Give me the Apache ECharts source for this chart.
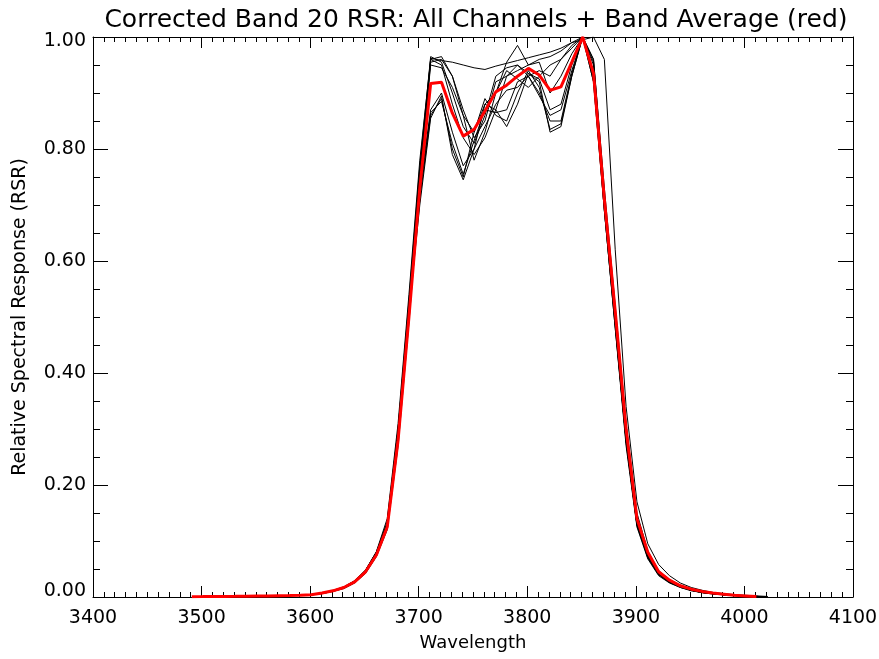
<!DOCTYPE html>
<html>
<head>
<meta charset="utf-8">
<script src="https://cdn.jsdelivr.net/npm/echarts@6/dist/echarts.min.js"></script>
<style>html,body{margin:0;padding:0;background:#fff}#c{width:879px;height:659px}</style>
</head>
<body>
<div id="c"></div>
<script>
// Band-average wavelengths (nm) and average RSR (red)
const avgWave = [3491,3501,3511,3521,3531,3541,3551,3561,3571,3581,3591,3601,3611,3621,3631,3641,3651,3661,3671,3681,3691,3701,3711,3721,3731,3741,3751,3761,3771,3781,3791,3801,3811,3821,3831,3841,3851,3861,3871,3881,3891,3901,3911,3921,3931,3941,3951,3961,3971,3981,3991,4001,4011];
const avgRSR = [0.0005,0.0007,0.001,0.001,0.0012,0.0015,0.0018,0.002,0.0023,0.0026,0.003,0.004,0.007,0.011,0.017,0.027,0.045,0.075,0.125,0.28,0.50,0.73,0.917,0.919,0.864,0.823,0.835,0.868,0.902,0.914,0.93,0.944,0.932,0.905,0.911,0.955,1.0,0.935,0.71,0.51,0.30,0.14,0.08,0.045,0.03,0.02,0.014,0.01,0.007,0.005,0.003,0.002,0.001];

// Channel wavelengths (nm)
const chanWave = [3591,3601,3611,3621,3631,3641,3651,3661,3671,3681,3691,3701,3711,3721,3731,3741,3751,3761,3771,3781,3791,3801,3811,3821,3831,3841,3851,3861,3871,3881,3891,3901,3911,3921,3931,3941,3951,3961,3971,3981,3991,4001,4011,4021];

// Individual channel RSR
const ch1 = [.003,.004,.007,.011,.017,.028,.047,.080,.135,.30,.53,.77, .965,.955,.90,.84,.81,.86,.93,.945,.95,.93,.94,.93,.96,.98,1.0,.96, .72,.50,.29,.135,.075,.043,.028,.019,.013,.009,.006,.004,.003,.002,.001,.0005];
const ch2 = [.003,.004,.006,.010,.015,.025,.042,.072,.12,.27,.49,.73, .962,.958,.955,.95,.945,.942,.948,.953,.958,.963,.968,.973,.98,.99,.995,1.0, .96,.62,.34,.17,.095,.058,.038,.025,.017,.012,.008,.006,.004,.003,.002,.001];
const ch3 = [.003,.004,.007,.011,.017,.028,.046,.078,.13,.29,.52,.75, .955,.96,.93,.87,.82,.85,.92,.93,.94,.95,.955,.90,.93,.97,1.0,.95, .70,.49,.28,.13,.072,.041,.027,.018,.012,.008,.006,.004,.003,.002,.001,.0005];
const ch4 = [.003,.004,.007,.011,.018,.029,.048,.080,.13,.30,.52,.76, .96,.95,.88,.82,.79,.82,.87,.93,.95,.935,.925,.87,.88,.95,1.0,.93, .69,.48,.28,.13,.072,.041,.027,.018,.012,.008,.006,.004,.003,.002,.001,.0005];
const ch5 = [.003,.004,.006,.010,.016,.026,.044,.075,.125,.285,.51,.75, .95,.945,.91,.86,.83,.88,.90,.955,.985,.95,.96,.965,.975,.99,1.0,.96, .73,.52,.31,.15,.082,.047,.031,.021,.014,.010,.007,.005,.003,.002,.001,.0005];
const ch6 = [.003,.004,.007,.011,.017,.028,.047,.079,.13,.29,.51,.70, .855,.895,.79,.745,.80,.88,.87,.84,.88,.935,.92,.83,.84,.93,1.0,.92, .69,.48,.27,.125,.068,.038,.025,.017,.011,.008,.005,.004,.002,.002,.001,.0005];
const ch7 = [.003,.004,.007,.011,.017,.027,.046,.078,.13,.29,.51,.71, .86,.89,.80,.75,.83,.89,.86,.85,.90,.94,.91,.835,.845,.93,1.0,.93, .70,.49,.28,.13,.07,.04,.026,.018,.012,.008,.006,.004,.003,.002,.001,.0005];
const ch8 = [.003,.004,.007,.011,.017,.028,.047,.079,.13,.295,.515,.72, .865,.885,.81,.755,.815,.87,.865,.87,.92,.93,.90,.85,.85,.935,1.0,.92, .69,.485,.275,.128,.07,.04,.026,.017,.012,.008,.006,.004,.003,.002,.001,.0005];
const ch9 = [.003,.004,.007,.011,.017,.028,.046,.078,.13,.29,.515,.73, .87,.90,.83,.77,.80,.84,.88,.905,.91,.93,.895,.86,.87,.94,1.0,.93, .70,.49,.28,.13,.072,.041,.027,.018,.012,.008,.006,.004,.003,.002,.001,.0005];
const ch10 = [.003,.004,.007,.012,.018,.029,.048,.081,.14,.31,.54,.78, .96,.965,.93,.86,.78,.83,.90,.94,.925,.91,.93,.95,.96,.985,1.0,.955, .71,.50,.29,.135,.075,.043,.028,.019,.013,.009,.006,.004,.003,.002,.001,.0005];
const channels = [ch1,ch2,ch3,ch4,ch5,ch6,ch7,ch8,ch9,ch10];

const xTicks = [3400,3500,3600,3700,3800,3900,4000,4100];
const yTicks = [0.0,0.2,0.4,0.6,0.8,1.0];

const FONT = 'DejaVu Sans';
const zip = (xs, ys) => xs.map((x, i) => [x, ys[i]]);

const series = channels.map((c, i) => ({
  name: 'ch' + (i + 1), type: 'line', data: zip(chanWave, c),
  showSymbol: false, symbol: 'none', lineStyle: { color: '#000', width: 1 },
  xAxisIndex: 0, yAxisIndex: 0, z: 2
}));
series.push({
  name: 'avg', type: 'line', data: zip(avgWave, avgRSR),
  showSymbol: false, symbol: 'none', lineStyle: { color: '#ff0000', width: 3 },
  xAxisIndex: 0, yAxisIndex: 0, z: 3
});

const lineStyle = { color: '#000', width: 1 };
const chart = echarts.init(document.getElementById('c'), null, { renderer: 'canvas' });
chart.setOption({
  animation: false,
  backgroundColor: '#fff',
  title: {
    text: 'Corrected Band 20 RSR: All Channels + Band Average (red)',
    left: 471, textAlign: 'center', top: 3,
    textStyle: { fontFamily: FONT, fontSize: 25, fontWeight: 'normal', color: '#000' }
  },
  grid: { left: 93, right: 26, top: 37, bottom: 62, containLabel: false, outerBoundsMode: 'none' },
  xAxis: [{
    type: 'value', min: xTicks[0], max: xTicks[xTicks.length - 1], interval: 100, position: 'bottom',
    name: 'Wavelength', nameLocation: 'middle', nameGap: 37,
    nameTextStyle: { fontFamily: FONT, fontSize: 18, color: '#000' },
    axisLine: { show: true, onZero: false, lineStyle },
    axisTick: { show: true, inside: true, length: 11, lineStyle },
    minorTick: { show: true, splitNumber: 10, length: 5, lineStyle },
    splitLine: { show: false },
    axisLabel: { fontFamily: FONT, fontSize: 19, color: '#000', margin: 12, formatter: v => String(v) }
  }, {
    type: 'value', min: xTicks[0], max: xTicks[xTicks.length - 1], interval: 100, position: 'top',
    axisLine: { show: true, onZero: false, lineStyle },
    axisTick: { show: true, inside: true, length: 11, lineStyle },
    minorTick: { show: true, splitNumber: 10, length: 5, lineStyle },
    splitLine: { show: false }, axisLabel: { show: false }
  }],
  yAxis: [{
    type: 'value', min: 0, max: 1, interval: 0.2, position: 'left',
    name: 'Relative Spectral Response (RSR)', nameLocation: 'middle', nameGap: 63,
    nameTextStyle: { fontFamily: FONT, fontSize: 19, color: '#000' },
    axisLine: { show: true, onZero: false, lineStyle },
    axisTick: { show: true, inside: true, length: 15, lineStyle },
    minorTick: { show: true, splitNumber: 4, length: 7, lineStyle },
    splitLine: { show: false },
    axisLabel: {
      fontFamily: FONT, fontSize: 19, color: '#000', margin: 7,
      formatter: v => {
        const s = v.toFixed(2);
        if (Math.abs(v) < 1e-9) return '{lo|' + s + '}';
        if (Math.abs(v - 1) < 1e-9) return '{hi|' + s + '}';
        return s;
      },
      rich: {
        lo: { fontFamily: FONT, fontSize: 19, color: '#000', padding: [0, 0, 12, 0] },
        hi: { fontFamily: FONT, fontSize: 19, color: '#000', padding: [8, 0, 0, 0] }
      }
    }
  }, {
    type: 'value', min: 0, max: 1, interval: 0.2, position: 'right',
    axisLine: { show: true, onZero: false, lineStyle },
    axisTick: { show: true, inside: true, length: 15, lineStyle },
    minorTick: { show: true, splitNumber: 4, length: 7, lineStyle },
    splitLine: { show: false }, axisLabel: { show: false }
  }],
  series
});
</script>
</body>
</html>
